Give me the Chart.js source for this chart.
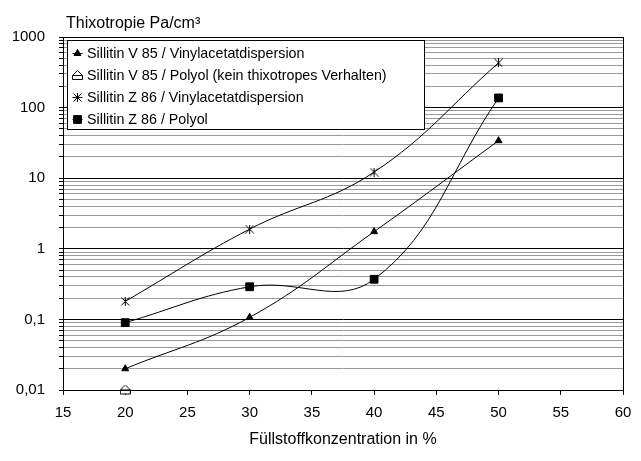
<!DOCTYPE html>
<html>
<head>
<meta charset="utf-8">
<script src="https://cdn.jsdelivr.net/npm/chart.js@4/dist/chart.umd.min.js"></script>
<style>
  html, body { margin: 0; padding: 0; background: #fff; }
  #wrap { width: 641px; height: 461px; }
</style>
</head>
<body>
<div id="wrap"><canvas id="thixChart" width="641" height="461"></canvas></div>
<script>
const concentrations = [20, 30, 40, 50];
const v85VinylValues = [0.02, 0.107, 1.75, 34];
const v85PolyolX = [20];
const v85PolyolValues = [0.01];
const z86VinylValues = [0.18, 1.9, 12.2, 430];
const z86PolyolValues = [0.09, 0.29, 0.37, 137];

const seriesLabels = [
    'Sillitin V 85 / Vinylacetatdispersion',
    'Sillitin V 85 / Polyol (kein thixotropes Verhalten)',
    'Sillitin Z 86 / Vinylacetatdispersion',
    'Sillitin Z 86 / Polyol'
];

const yDecades = [0.01, 0.1, 1, 10, 100, 1000];
const yTickLabels = ['0,01', '0,1', '1', '10', '100', '1000'];

const chartTitle = 'Thixotropie Pa/cm³';
const xAxisTitle = 'Füllstoffkonzentration in %';

const FONT = "'Liberation Sans', Arial, sans-serif";

const toPoints = (xs, ys) => xs.map((x, i) => ({ x, y: ys[i] }));

function isDecade(v) {
    const l = Math.log10(v);
    return Math.abs(l - Math.round(l)) < 1e-9;
}

function decadeLabel(v) {
    const idx = yDecades.findIndex(d => Math.abs(d - v) / d < 1e-9);
    return idx >= 0 ? yTickLabels[idx] : '';
}

// Excel-artige Marker: Sternchen (x + senkrechter Strich) und offenes "Haus"
function makeAsterisk() {
    const c = document.createElement('canvas');
    c.width = 9; c.height = 9;
    const g = c.getContext('2d');
    g.strokeStyle = '#000';
    g.lineWidth = 1;
    g.beginPath();
    g.moveTo(0.5, 0.5); g.lineTo(8.5, 8.5);
    g.moveTo(8.5, 0.5); g.lineTo(0.5, 8.5);
    g.moveTo(4.5, 0); g.lineTo(4.5, 9);
    g.stroke();
    return c;
}

function makeHouse() {
    const c = document.createElement('canvas');
    c.width = 11; c.height = 11;
    const g = c.getContext('2d');
    g.fillStyle = '#fff';
    g.strokeStyle = '#000';
    g.lineWidth = 1;
    g.beginPath();
    g.moveTo(5.5, 0.5);
    g.lineTo(10.5, 5.5);
    g.lineTo(10.5, 9.5);
    g.lineTo(0.5, 9.5);
    g.lineTo(0.5, 5.5);
    g.closePath();
    g.fill();
    g.stroke();
    g.beginPath();
    g.moveTo(0.5, 5.5); g.lineTo(10.5, 5.5);
    g.stroke();
    return c;
}

const asteriskMarker = makeAsterisk();
const houseMarker = makeHouse();

// Titel oben links + Rahmen um die Plotfläche
const framePlugin = {
    id: 'frame',
    afterDraw(chart) {
        const { ctx, chartArea: a } = chart;
        ctx.save();
        ctx.strokeStyle = '#000';
        ctx.lineWidth = 1;
        ctx.strokeRect(Math.round(a.left) + 0.5, Math.round(a.top) + 0.5,
            Math.round(a.right - a.left), Math.round(a.bottom - a.top));
        ctx.fillStyle = '#000';
        ctx.font = '16px ' + FONT;
        ctx.textBaseline = 'alphabetic';
        ctx.fillText(chartTitle, 66, 28);
        ctx.restore();
    }
};

// Legende als Kasten in der Plotfläche
const boxLegendPlugin = {
    id: 'boxLegend',
    afterDraw(chart) {
        const ctx = chart.ctx;
        const left = 67, top = 40, width = 357, height = 89;
        ctx.save();
        ctx.fillStyle = '#fff';
        ctx.fillRect(left, top, width, height);
        ctx.strokeStyle = '#000';
        ctx.lineWidth = 1;
        ctx.strokeRect(left + 0.5, top + 0.5, width, height);

        chart.data.datasets.forEach((ds, i) => {
            const y = top + 13.5 + i * 22;
            const mx = left + 10.5;
            ctx.strokeStyle = '#000';
            ctx.lineWidth = 1;
            if (ds.showLine !== false) {
                ctx.beginPath();
                ctx.moveTo(mx - 5, y);
                ctx.lineTo(mx + 5, y);
                ctx.stroke();
            }
            ctx.fillStyle = ds.pointBackgroundColor;
            ctx.strokeStyle = ds.pointBorderColor;
            Chart.helpers.drawPoint(ctx, {
                pointStyle: ds.pointStyle,
                radius: ds.pointRadius,
                borderWidth: 1,
                rotation: 0
            }, mx, y);
            ctx.fillStyle = '#000';
            ctx.font = '14.3px ' + FONT;
            ctx.textBaseline = 'middle';
            ctx.fillText(ds.label, left + 20, y + 1);
        });
        ctx.restore();
    }
};

const lineDefaults = {
    borderColor: '#000',
    borderWidth: 1,
    pointBorderColor: '#000',
    pointBorderWidth: 1,
    tension: 0.4,
    fill: false
};

new Chart(document.getElementById('thixChart'), {
    type: 'line',
    data: {
        datasets: [
            {
                ...lineDefaults,
                label: seriesLabels[0],
                data: toPoints(concentrations, v85VinylValues),
                pointStyle: 'triangle',
                pointRadius: 4,
                pointBackgroundColor: '#000'
            },
            {
                ...lineDefaults,
                label: seriesLabels[1],
                data: toPoints(v85PolyolX, v85PolyolValues),
                showLine: false,
                pointStyle: houseMarker,
                pointRadius: 5,
                pointBackgroundColor: '#fff'
            },
            {
                ...lineDefaults,
                label: seriesLabels[2],
                data: toPoints(concentrations, z86VinylValues),
                pointStyle: asteriskMarker,
                pointRadius: 4,
                pointBackgroundColor: '#000'
            },
            {
                ...lineDefaults,
                label: seriesLabels[3],
                data: toPoints(concentrations, z86PolyolValues),
                pointStyle: 'rect',
                pointRadius: 5.5,
                pointBackgroundColor: '#000'
            }
        ]
    },
    options: {
        responsive: false,
        animation: false,
        devicePixelRatio: 1,
        clip: false,
        layout: { padding: { left: 0, right: 18, top: 37, bottom: 0 } },
        plugins: {
            legend: { display: false },
            tooltip: { enabled: false },
            title: { display: false }
        },
        scales: {
            x: {
                type: 'linear',
                min: 15,
                max: 60,
                afterFit: scale => { scale.height = 71; },
                border: { display: true, color: '#000', width: 1 },
                grid: {
                    drawOnChartArea: false,
                    drawTicks: true,
                    tickLength: 5,
                    tickColor: '#000'
                },
                ticks: {
                    stepSize: 5,
                    color: '#000',
                    padding: 9,
                    maxRotation: 0,
                    font: { family: FONT, size: 15 }
                },
                title: {
                    display: true,
                    text: xAxisTitle,
                    color: '#000',
                    font: { family: FONT, size: 16 },
                    padding: { top: 0, bottom: 12 }
                }
            },
            y: {
                type: 'logarithmic',
                min: 0.01,
                max: 1000,
                afterFit: scale => { scale.width = 63; },
                afterBuildTicks: scale => {
                    const ticks = [];
                    for (let k = -2; k < 3; k++) {
                        for (let m = 1; m < 10; m++) {
                            ticks.push({ value: m * Math.pow(10, k) });
                        }
                    }
                    ticks.push({ value: 1000 });
                    scale.ticks = ticks;
                },
                border: { display: true, color: '#000', width: 1 },
                grid: {
                    drawTicks: true,
                    tickLength: 4,
                    tickColor: '#000',
                    color: ctx => (ctx.tick && isDecade(ctx.tick.value)) ? '#000' : '#9a9a9a',
                    lineWidth: 1
                },
                ticks: {
                    autoSkip: false,
                    color: '#000',
                    padding: 14,
                    font: { family: FONT, size: 15 },
                    callback: value => isDecade(value) ? decadeLabel(value) : ''
                }
            }
        }
    },
    plugins: [framePlugin, boxLegendPlugin]
});
</script>
</body>
</html>
